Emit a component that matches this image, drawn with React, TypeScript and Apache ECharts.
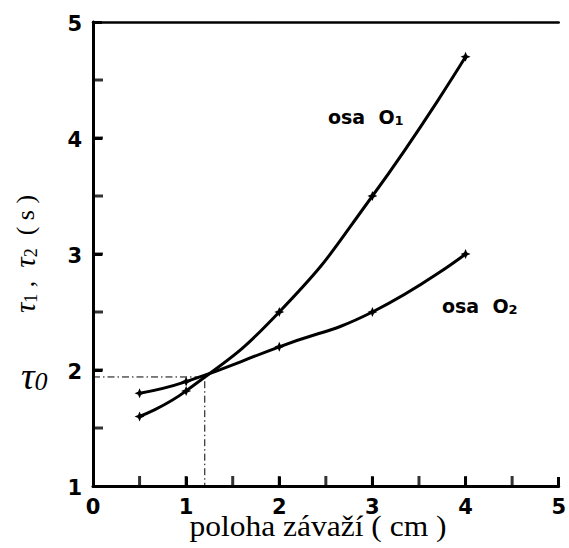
import React, { useEffect, useRef } from "react";
import * as echarts from "echarts";

const positions = [0.5, 1, 2, 3, 4];
const tauO1 = [1.6, 1.82, 2.5, 3.5, 4.7];
const tauO2 = [1.8, 1.9, 2.2, 2.5, 3.0];
const tau0Point = [1.2, 1.94];
const xTicks = [0, 1, 2, 3, 4, 5];
const yTicks = [1, 2, 3, 4, 5];
const xTickMarks = [0.5, 1, 1.5, 2, 2.5, 3, 3.5, 4, 4.5];
const yTickMarks = [1.5, 2, 2.5, 3, 3.5, 4, 4.5];

const STAR = "path://M0,-6L1.8,-1.8L6,0L1.8,1.8L0,6L-1.8,1.8L-6,0L-1.8,-1.8Z";

export default function App() {
  const ref = useRef<HTMLDivElement>(null);
  useEffect(() => {
    document.body.style.margin = "0";
    const chart = echarts.init(ref.current!, null, { renderer: "svg" });
    const o1 = positions.map((x, i) => [x, tauO1[i]]);
    const o2 = positions.map((x, i) => [x, tauO2[i]]);
    const guide = [
      [xTicks[0], tau0Point[1]],
      [tau0Point[0], tau0Point[1]],
      [tau0Point[0], yTicks[0]],
    ];
    const xTickData = xTickMarks.map((x) => [x, yTicks[0]]);
    const yTickData = yTickMarks.map((y) => [xTicks[0], y]);
    const tickFont = {
      fontFamily: "DejaVu Sans",
      fontWeight: "bold" as const,
      fontSize: 21,
      color: "#000",
    };
    const tickLine = { color: "#000", width: 3 };
    chart.setOption({
      animation: false,
      backgroundColor: "#fff",
      grid: { left: 93, top: 22, right: 7, bottom: 62 },
      xAxis: [
        {
          type: "value",
          position: "bottom",
          min: xTicks[0],
          max: xTicks[xTicks.length - 1],
          interval: 1,
          axisLine: { show: true, lineStyle: { color: "#000", width: 3 } },
          axisTick: { show: true, inside: true, length: 9, lineStyle: tickLine },
          splitLine: { show: false },
          axisLabel: { ...tickFont, margin: 10 },
        },
        {
          type: "value",
          position: "top",
          min: xTicks[0],
          max: xTicks[xTicks.length - 1],
          interval: 1,
          axisLine: { show: true, lineStyle: { color: "#000", width: 2.5 } },
          axisTick: { show: false },
          axisLabel: { show: false },
          splitLine: { show: false },
        },
      ],
      yAxis: [
        {
          type: "value",
          position: "left",
          min: yTicks[0],
          max: yTicks[yTicks.length - 1],
          interval: 1,
          axisLine: { show: true, lineStyle: { color: "#000", width: 3 } },
          axisTick: { show: true, inside: true, length: 9, lineStyle: tickLine },
          splitLine: { show: false },
          axisLabel: { ...tickFont, margin: 11, verticalAlign: "top", padding: [-9, 0, 0, 0] },
        },
        {
          type: "value",
          position: "right",
          min: yTicks[0],
          max: yTicks[yTicks.length - 1],
          interval: 1,
          axisLine: { show: true, lineStyle: { color: "#000", width: 2.5 } },
          axisTick: { show: false },
          axisLabel: { show: false },
          splitLine: { show: false },
        },
      ],
      series: [
        {
          type: "scatter",
          data: xTickData,
          symbol: "rect",
          symbolSize: [3, 10],
          symbolOffset: [0, -5],
          itemStyle: { color: "#000" },
          clip: false,
          silent: true,
          z: 10,
        },
        {
          type: "scatter",
          data: yTickData,
          symbol: "rect",
          symbolSize: [10, 3],
          symbolOffset: [5, 0],
          itemStyle: { color: "#000" },
          clip: false,
          silent: true,
          z: 10,
        },
        {
          type: "line",
          data: guide,
          symbol: "none",
          lineStyle: { color: "#000", width: 1, type: [7, 3, 1.5, 3] },
        },
        {
          type: "line",
          data: o1,
          smooth: true,
          symbol: STAR,
          symbolSize: 10,
          itemStyle: { color: "#000" },
          lineStyle: { color: "#000", width: 3 },
        },
        {
          type: "line",
          data: o2,
          smooth: true,
          symbol: STAR,
          symbolSize: 10,
          itemStyle: { color: "#000" },
          lineStyle: { color: "#000", width: 3 },
        },
      ],
      graphic: [
        {
          type: "text",
          x: 318,
          y: 541,
          style: {
            text: "poloha závaží ( cm )",
            font: "30px 'Liberation Serif'",
            fill: "#000",
            align: "center",
            verticalAlign: "bottom",
          },
          scaleX: 1.05,
        },
        {
          type: "text",
          x: 25,
          y: 254,
          rotation: Math.PI / 2,
          style: {
            text: "{t|τ}{s|1}{u| ,  }{t|τ}{s|2}{u|  ( s )}",
            align: "center",
            verticalAlign: "middle",
            fill: "#000",
            rich: {
              t: { fontFamily: "Liberation Serif", fontStyle: "italic", fontSize: 29, fill: "#000" },
              u: { fontFamily: "Liberation Serif", fontSize: 26, fill: "#000" },
              s: { fontFamily: "Liberation Serif", fontSize: 18, fill: "#000", verticalAlign: "bottom", padding: [10, 0, 0, 0] },
            },
          },
        },
        {
          type: "text",
          x: 21,
          y: 395,
          style: {
            text: "{t|τ}{s|0}",
            align: "left",
            verticalAlign: "bottom",
            fill: "#000",
            rich: {
              t: { fontFamily: "Liberation Serif", fontStyle: "italic", fontSize: 38, fill: "#000" },
              s: { fontFamily: "Liberation Serif", fontStyle: "italic", fontSize: 26, fill: "#000", padding: [10, 0, 0, 0] },
            },
          },
        },
        {
          type: "text",
          x: 328,
          y: 127,
          style: {
            text: "{a|osa  O}{b|1}",
            align: "left",
            verticalAlign: "bottom",
            fill: "#000",
            rich: {
              a: { fontFamily: "DejaVu Sans", fontWeight: "bold", fontSize: 19, fill: "#000" },
              b: { fontFamily: "DejaVu Sans", fontWeight: "bold", fontSize: 13, fill: "#000", padding: [7, 0, 0, 0] },
            },
          },
        },
        {
          type: "text",
          x: 442,
          y: 316,
          style: {
            text: "{a|osa  O}{b|2}",
            align: "left",
            verticalAlign: "bottom",
            fill: "#000",
            rich: {
              a: { fontFamily: "DejaVu Sans", fontWeight: "bold", fontSize: 19, fill: "#000" },
              b: { fontFamily: "DejaVu Sans", fontWeight: "bold", fontSize: 13, fill: "#000", padding: [7, 0, 0, 0] },
            },
          },
        },
      ],
    });
    return () => chart.dispose();
  }, []);
  return <div ref={ref} style={{ width: 569, height: 548 }} />;
}
